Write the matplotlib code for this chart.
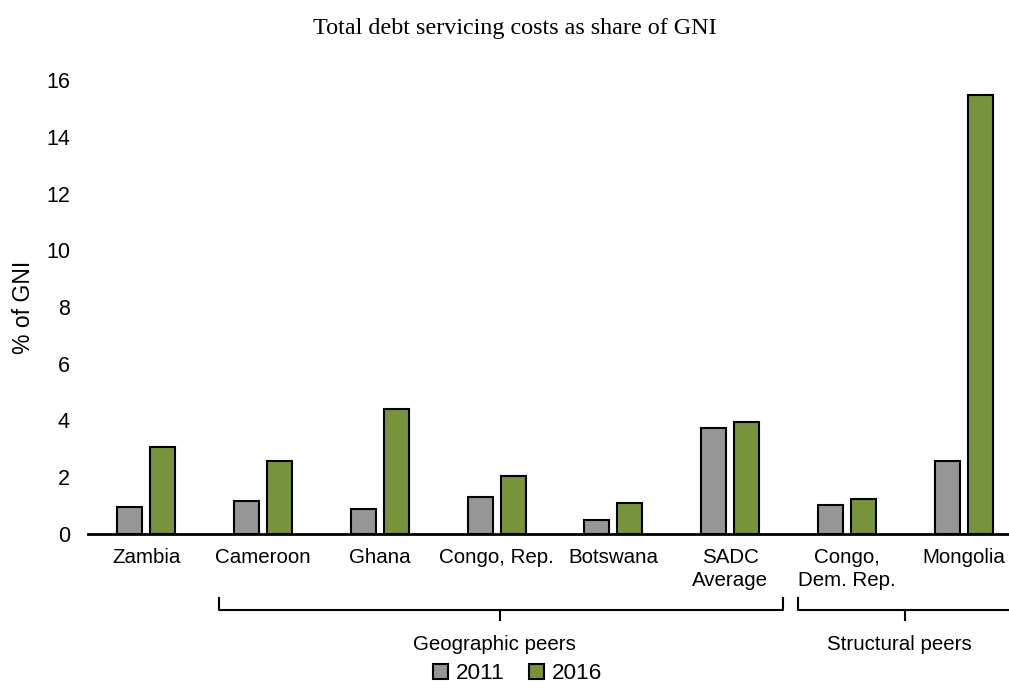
import numpy as np
import matplotlib.pyplot as plt
from matplotlib.transforms import blended_transform_factory

# ── Data ──────────────────────────────────────────────────────────────────────
countries = ['Zambia', 'Cameroon', 'Ghana', 'Congo, Rep.', 'Botswana',
             'SADC\nAverage', 'Congo,\nDem. Rep.', 'Mongolia']
debt_2011 = [0.95, 1.16, 0.88, 1.30, 0.49, 3.73, 1.02, 2.58]
debt_2016 = [3.06, 2.57, 4.40, 2.04, 1.09, 3.93, 1.23, 15.46]
yticks = [0, 2, 4, 6, 8, 10, 12, 14, 16]

plt.rcParams['font.family'] = ['Liberation Sans', 'DejaVu Sans']

# ── Plot ──────────────────────────────────────────────────────────────────────
fig = plt.figure(figsize=(10.09, 6.88), dpi=100)
fig.patch.set_facecolor('#ffffff')
ax = fig.add_axes([88 / 1009, 154 / 688, 934 / 1009, 454 / 688])

x = np.arange(len(countries))
w = 0.215
off = 0.141
ax.bar(x - off, debt_2011, w, color='#969696', edgecolor='black', linewidth=1.5,
       label='2011', zorder=3)
ax.bar(x + off, debt_2016, w, color='#77933C', edgecolor='black', linewidth=1.5,
       label='2016', zorder=3)

ax.set_xlim(-0.5, len(countries) - 0.5)
ax.set_ylim(0, 16)
ax.set_yticks(yticks)
ax.tick_params(axis='y', length=0, labelsize=15.5, pad=13)
ax.tick_params(axis='x', length=0, labelsize=14.8, pad=10)
ax.set_xticks(x)
ax.set_xticklabels(countries, linespacing=1.3)
for s in ['top', 'right', 'left']:
    ax.spines[s].set_visible(False)
ax.spines['bottom'].set_linewidth(2)
ax.set_ylabel('% of GNI', fontsize=16.5, labelpad=8)

fig.text(0.51, 0.958, 'Total debt servicing costs as share of GNI',
         family='Liberation Serif', fontsize=17.4, ha='center', va='center')

# ── Group brackets ────────────────────────────────────────────────────────────
tr = blended_transform_factory(ax.transData, ax.transAxes)
y_line, y_end, y_tick = -0.167, -0.141, -0.189
for left, right, mid, name in [(0.62, 5.45, 3.03, 'Geographic peers'),
                               (5.58, 7.55, 6.5, 'Structural peers')]:
    ax.plot([left, left, right, right], [y_end, y_line, y_line, y_end],
            transform=tr, color='black', lw=1.5, clip_on=False,
            solid_joinstyle='round')
    ax.plot([mid, mid], [y_line, y_tick], transform=tr, color='black',
            lw=1.5, clip_on=False)
    ax.text(mid - 0.05, -0.244, name, transform=tr, ha='center', va='center',
            fontsize=14.8)

leg = fig.legend(loc='lower center', bbox_to_anchor=(0.513, -0.024), ncol=2,
                 frameon=False, fontsize=16.2, handlelength=0.65,
                 handleheight=0.65, handletextpad=0.35, columnspacing=1.1)

plt.savefig('out.png', dpi=100, facecolor='#ffffff')
